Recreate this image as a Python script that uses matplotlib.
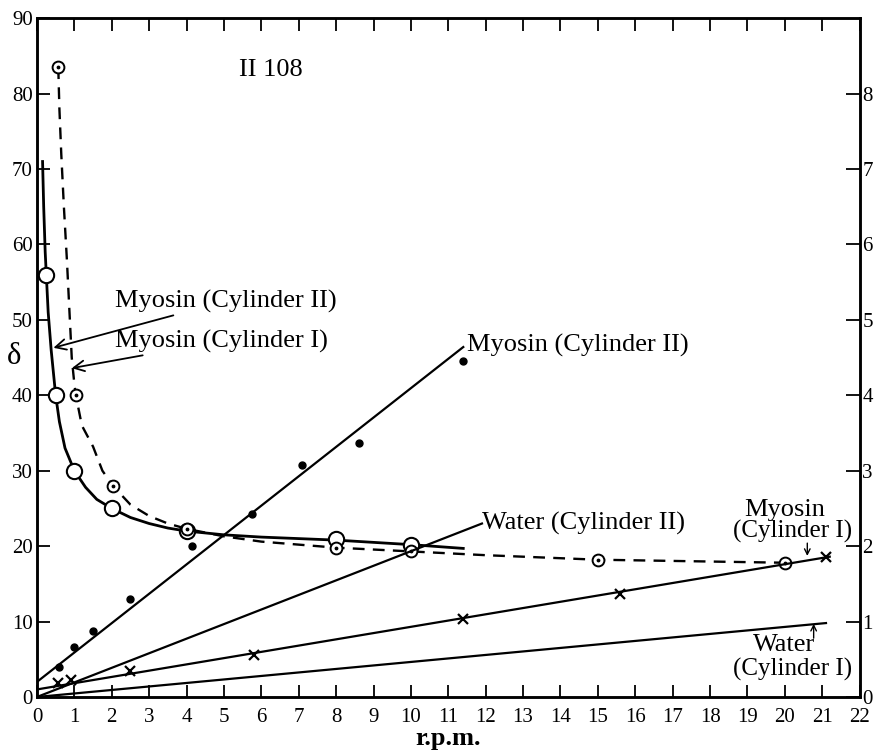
import numpy as np
import matplotlib.pyplot as plt

plt.rcParams['font.family'] = ['Liberation Serif', 'DejaVu Serif']

# Myosin (Cylinder II) - delta vs r.p.m. (open circles, solid curve)
myo2_x = [0.25, 0.5, 1, 2, 4, 8, 10]
myo2_y = [56, 40, 30, 25, 22, 21, 20.2]
# traced curve through the points
myo2_cx = [0.15, 0.18, 0.22, 0.25, 0.3, 0.38, 0.44, 0.5, 0.6, 0.75, 1, 1.3, 1.6, 2,
           2.5, 3, 3.5, 4, 5, 6, 8, 10, 11.4]
myo2_cy = [71, 65, 59, 56, 51, 46, 43, 40, 36.5, 33, 30, 27.8, 26.2, 25,
           23.8, 23, 22.4, 22, 21.5, 21.2, 20.8, 20.2, 19.7]

# Myosin (Cylinder I) - delta vs r.p.m. (dotted circles, dashed curve)
myo1_x = [0.57, 1.04, 2.03, 4, 8, 10, 15, 20]
myo1_y = [83.5, 40, 28, 22.3, 19.7, 19.3, 18.2, 17.8]
myo1_cx = [0.57, 0.6, 0.65, 0.72, 0.8, 0.87, 0.93, 1.0, 1.04, 1.2, 1.5, 1.75, 2.03,
           2.5, 3, 3.5, 4, 5, 6, 8, 10, 12, 15, 20]
myo1_cy = [83.5, 78, 72, 65, 58, 51, 45, 41.5, 40, 36, 33.2, 30, 28,
           25.5, 24, 23, 22.3, 21.3, 20.6, 19.8, 19.3, 18.8, 18.2, 17.8]

# torque readings (right scale x10)
dots_x = [0.6, 1.0, 1.5, 2.5, 4.15, 5.75, 7.1, 8.6, 11.4]
dots_y = [4.0, 6.6, 8.8, 13.0, 20.0, 24.3, 30.8, 33.7, 44.5]
crosses_x = [0.57, 0.9, 2.5, 5.8, 11.4, 15.6, 21.1]
crosses_y = [1.8, 2.2, 3.4, 5.6, 10.3, 13.6, 18.5]

# fitted straight lines (start/end)
line_myo2_x = [0, 11.4]
line_myo2_y = [2.0, 46.4]
line_wat2_x = [0, 11.9]
line_wat2_y = [0, 23.0]
line_myo1_x = [0, 21.2]
line_myo1_y = [1.0, 18.6]
line_wat1_x = [0, 21.1]
line_wat1_y = [0, 9.8]

xticks = list(range(0, 23))
yticks = list(range(0, 100, 10))
rticks = list(range(0, 9))

fig = plt.figure(figsize=(8.78, 7.5), dpi=100)
ax = fig.add_axes([0.0421, 0.0707, 0.937, 0.905])

ax.plot(myo2_cx, myo2_cy, color='black', lw=2.0)
ax.plot(myo2_x, myo2_y, 'o', ms=11, mfc='white', mec='black', mew=1.5)

ax.plot(myo1_cx, myo1_cy, color='black', lw=1.7, dashes=(5, 3.5))
ax.plot(myo1_x, myo1_y, 'o', ms=8.5, mfc='white', mec='black', mew=1.4)
ax.plot(myo1_x, myo1_y, '.', ms=3.5, color='black')

for lx, ly in [(line_myo2_x, line_myo2_y), (line_wat2_x, line_wat2_y),
               (line_myo1_x, line_myo1_y), (line_wat1_x, line_wat1_y)]:
    ax.plot(lx, ly, color='black', lw=1.6)

ax.plot(dots_x, dots_y, 'o', ms=5, color='black')
ax.plot(crosses_x, crosses_y, 'x', ms=6.5, mew=1.6, color='black')

fs = 19
ax.text(5.4, 83.2, 'II 108', fontsize=fs, va='center')
ax.annotate('Myosin (Cylinder II)', xy=(0.44, 46.3), xytext=(2.1, 52.5),
            fontsize=fs, va='center',
            arrowprops=dict(arrowstyle='->', lw=1.3, color='black', shrinkA=0, shrinkB=0))
ax.annotate('Myosin (Cylinder I)', xy=(0.93, 43.6), xytext=(2.1, 47.2),
            fontsize=fs, va='center',
            arrowprops=dict(arrowstyle='->', lw=1.3, color='black', shrinkA=0, shrinkB=0))
ax.text(11.5, 46.6, 'Myosin (Cylinder II)', fontsize=fs, va='center')
ax.text(11.9, 23.0, 'Water (Cylinder II)', fontsize=fs, va='center')
ax.text(20.0, 24.8, 'Myosin', fontsize=fs, ha='center', va='center')
ax.text(20.2, 21.9, '(Cylinder I)', fontsize=18, ha='center', va='center')
ax.annotate('', xy=(20.6, 18.7), xytext=(20.6, 20.4),
            arrowprops=dict(arrowstyle='->', lw=1.0, color='black', shrinkA=0, shrinkB=0))
ax.text(19.97, 6.9, 'Water', fontsize=fs, ha='center', va='center')
ax.text(20.2, 3.6, '(Cylinder I)', fontsize=18, ha='center', va='center')
ax.annotate('', xy=(20.77, 9.7), xytext=(20.77, 7.8),
            arrowprops=dict(arrowstyle='->', lw=1.0, color='black', shrinkA=0, shrinkB=0))

ax.set_xlim(0, 22)
ax.set_ylim(0, 90)
ax.set_xticks(xticks)
ax.set_yticks(yticks)
ax.tick_params(direction='in', length=9, width=1.3, labelsize=15, top=True, pad=3)
ax.tick_params(axis='x', pad=8)
ax.set_xlabel('r.p.m.', fontsize=19, fontweight='bold', labelpad=0)
fig.text(14 / 878, 1 - 357 / 750, 'δ', fontsize=22, ha='center', va='center')
for s in ax.spines.values():
    s.set_linewidth(1.8)

ax2 = ax.twinx()
ax2.set_ylim(0, 9)
ax2.set_yticks(rticks)
ax2.tick_params(direction='in', length=10, width=1.3, labelsize=15, pad=2)
for s in ax2.spines.values():
    s.set_linewidth(1.8)

fig.savefig('out.png', dpi=100)
